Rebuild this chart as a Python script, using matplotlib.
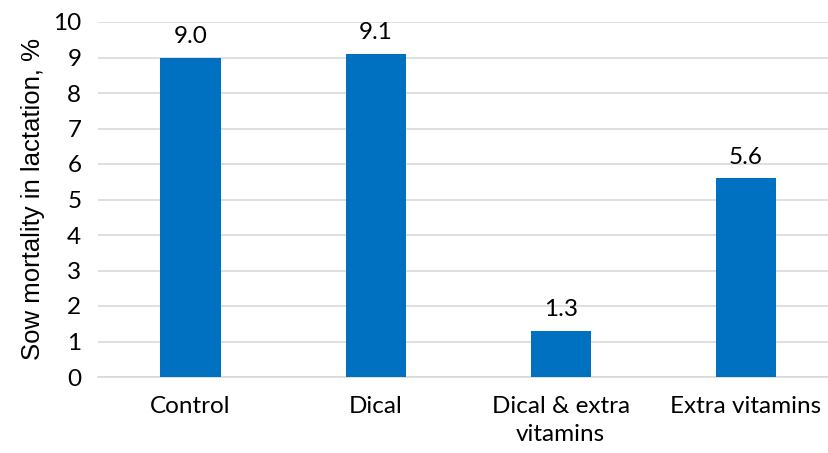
import matplotlib.pyplot as plt

categories = ["Control", "Dical", "Dical & extra\nvitamins", "Extra vitamins"]
mortality = [9.0, 9.1, 1.3, 5.6]

fig = plt.figure(figsize=(8.29, 4.53), dpi=100)
ax = fig.add_axes([98 / 829, 1 - 377 / 453, 1 - 98 / 829, 355 / 453])

x = range(len(categories))
bars = ax.bar(x, mortality, width=0.325, color="#0070C0", zorder=3)

for b, v in zip(bars, mortality):
    ax.text(b.get_x() + b.get_width() / 2, v + 0.3, f"{v:.1f}",
            ha="center", va="bottom", fontsize=17.5, family="Lato")

ax.set_ylim(0, 10)
ax.set_xlim(-0.5, 3.45)
ax.set_yticks(range(0, 11))
ax.yaxis.grid(True, color="#D9D9D9", linewidth=1.2, zorder=0)
ax.set_xticks(list(x))
ax.set_xticklabels(categories, fontsize=17.5, family="Lato", linespacing=1.4)
ax.tick_params(axis="y", labelsize=17.5, length=0, pad=12)
ax.tick_params(axis="x", length=0, pad=14)
for lbl in ax.get_yticklabels():
    lbl.set_family("Lato")
for s in ["top", "right", "left"]:
    ax.spines[s].set_visible(False)
ax.spines["bottom"].set_color("#D9D9D9")
ax.spines["bottom"].set_linewidth(1.2)

ax.set_ylabel("Sow mortality in lactation, %", fontsize=18.5,
              family="Liberation Sans", labelpad=6)

fig.savefig("out.png", dpi=100)
